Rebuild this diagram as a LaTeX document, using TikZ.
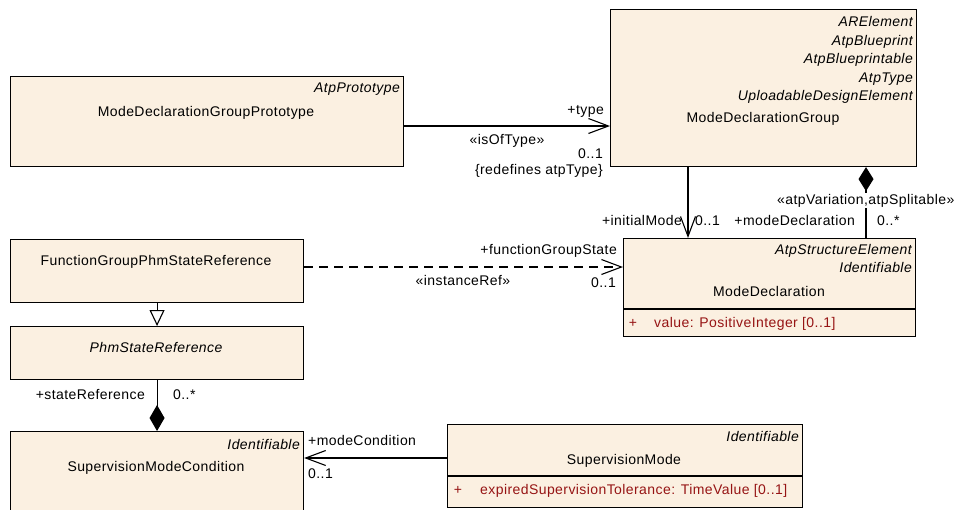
\documentclass[tikz,border=0pt]{standalone}
\usepackage{fontspec}
\setmainfont{Liberation Sans}[LetterSpace=3]
\usetikzlibrary{arrows.meta}
\definecolor{boxfill}{RGB}{251,240,225}
\definecolor{attrred}{RGB}{150,20,20}
\begin{document}
\begin{tikzpicture}[x=1pt,y=-1pt,
  every node/.style={font=\fontsize{14}{16}\selectfont, inner sep=0pt, text height=10pt, text depth=1pt},
  umlbox/.style={draw=black, line width=1.1pt, fill=boxfill, anchor=north west, inner sep=0pt},
  stereo/.style={font=\fontsize{14}{16}\selectfont\itshape, anchor=east},
  lbl/.style={font=\fontsize{14}{16}\selectfont},
  attrtxt/.style={text=attrred, anchor=west},
  conn/.style={draw=black, line width=1.1pt},
  openhead/.style={-{Straight Barb[length=20pt,width=15pt,line width=1.1pt]}},
  diamstart/.style={{Diamond[length=24pt,width=15pt]}-},
  diamend/.style={-{Diamond[length=26pt,width=15pt]}},
  genhead/.style={-{Triangle[open,length=16pt,width=15pt,fill=white,line width=1.1pt]}},
]
\useasboundingbox (0,0) rectangle (959,509);

% boxes
\node[umlbox, minimum width=393pt, minimum height=90pt] (mdgp) at (10,76) {};
\node[umlbox, minimum width=306pt, minimum height=157pt] (mdg) at (610,9) {};
\node[umlbox, minimum width=293pt, minimum height=63pt] (fgpsr) at (10,239) {};
\node[umlbox, minimum width=293pt, minimum height=53pt] (psr) at (10,326) {};
\node[umlbox, minimum width=293pt, minimum height=90pt] (smc) at (10,431) {};
\node[umlbox, minimum width=292pt, minimum height=98pt] (md) at (623,238) {};
\node[umlbox, minimum width=355pt, minimum height=83pt] (sm) at (447,424) {};

% compartments
\draw[conn] (md.west |- 0,309) -- (md.east |- 0,309);
\draw[conn] (sm.west |- 0,476) -- (sm.east |- 0,476);

% texts ModeDeclarationGroupPrototype
\node[stereo] at (400,88) {AtpPrototype};
\node at (206,112) {ModeDeclarationGroupPrototype};

% ModeDeclarationGroup
\node[stereo] at (913,22) {ARElement};
\node[stereo] at (913,40.5) {AtpBlueprint};
\node[stereo] at (913,59) {AtpBlueprintable};
\node[stereo] at (913,77.5) {AtpType};
\node[stereo] at (913,96) {UploadableDesignElement};
\node at (763,118) {ModeDeclarationGroup};

% ModeDeclaration
\node[stereo] at (912,250) {AtpStructureElement};
\node[stereo] at (912,268) {Identifiable};
\node at (769,292) {ModeDeclaration};
\node[text=attrred] at (633,323) {+};
\node[attrtxt] at (654,323) {value: PositiveInteger [0..1]};

% FunctionGroupPhmStateReference
\node at (156,261) {FunctionGroupPhmStateReference};
% PhmStateReference
\node[font=\fontsize{14}{16}\selectfont\itshape] at (156,348) {PhmStateReference};
% SupervisionModeCondition
\node[stereo] at (300,445) {Identifiable};
\node at (156,467) {SupervisionModeCondition};
% SupervisionMode
\node[stereo] at (799,437) {Identifiable};
\node at (624,460) {SupervisionMode};
\node[text=attrred] at (458,490) {+};
\node[attrtxt] at (480,490) {expiredSupervisionTolerance: TimeValue [0..1]};

% connectors
\draw[conn, openhead] (mdgp.east |- 0,126) -- (mdg.west |- 0,126);
\node[lbl, anchor=east] at (604,110) {+type};
\node[lbl] at (507,140) {«isOfType»};
\node[lbl, anchor=east] at (603,154) {0..1};
\node[lbl, anchor=east] at (603,170) {\{redefines atpType\}};

\draw[conn, openhead] (mdg.south -| 688,0) -- (md.north -| 688,0);
\node[lbl, anchor=east] at (682,221) {+initialMode};
\node[lbl, anchor=west] at (695,221) {0..1};

\draw[conn, diamstart] (mdg.south -| 866,0) -- (md.north -| 866,0);
\node[lbl, anchor=west, fill=white, inner ysep=2pt] at (777,200) {«atpVariation,atpSplitable»};
\node[lbl, anchor=east] at (855,221) {+modeDeclaration};
\node[lbl, anchor=west] at (877,221) {0..*};

\draw[conn, openhead, dash pattern=on 9pt off 6pt] (fgpsr.east |- 0,267) -- (md.west |- 0,267);
\node[lbl, anchor=east] at (617,250) {+functionGroupState};
\node[lbl] at (463,281) {«instanceRef»};
\node[lbl, anchor=east] at (616,283) {0..1};

\draw[conn, genhead] (fgpsr.south) -- (psr.north);

\draw[conn, diamend] (psr.south) -- (smc.north);
\node[lbl, anchor=east] at (145,395) {+stateReference};
\node[lbl, anchor=west] at (173,395) {0..*};

\draw[conn, openhead] (sm.west |- 0,458) -- (smc.east |- 0,458);
\node[lbl, anchor=west] at (308,441) {+modeCondition};
\node[lbl, anchor=west] at (308,474) {0..1};
\end{tikzpicture}
\end{document}
